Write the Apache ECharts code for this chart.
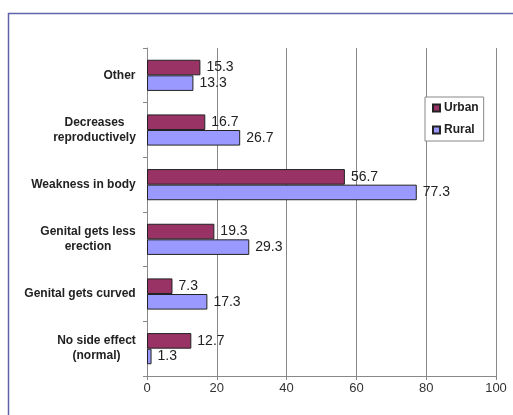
<!DOCTYPE html>
<html><head><meta charset="utf-8">
<script src="https://cdn.jsdelivr.net/npm/echarts@6/dist/echarts.min.js"></script>
<style>html,body{margin:0;padding:0;background:#fff}#c{width:513px;height:415px}</style>
</head><body><div id="c"></div>
<script>
const categories = ['Other', 'Decreases\nreproductively', 'Weakness in body', 'Genital gets less\nerection', 'Genital gets curved', 'No side effect\n(normal)'];
const urban = [15.3, 16.7, 56.7, 19.3, 7.3, 12.7];
const rural = [13.3, 26.7, 77.3, 29.3, 17.3, 1.3];
const xTicks = [0, 20, 40, 60, 80, 100];

const FF = 'Arial, "Liberation Sans", sans-serif';
const labelFont = 'bold 12px Arial, "Liberation Sans", sans-serif';
const cv = document.createElement('canvas').getContext('2d');
cv.font = labelFont;
function blockWidth(v) {
  return Math.ceil(Math.max(...v.split('\n').map(l => cv.measureText(l).width)));
}
function fmtLabel(v) {
  const w = blockWidth(v);
  return v.split('\n').map(l => '{c' + w + '|' + l + '}').join('\n');
}
const rich = {};
categories.forEach(v => {
  const w = blockWidth(v);
  rich['c' + w] = {width: w, align: 'center', fontWeight: 'bold', fontSize: 12, fontFamily: FF, color: '#222', lineHeight: 15};
});

const chart = echarts.init(document.getElementById('c'), null, {renderer: 'canvas'});
chart.setOption({
  animation: false,
  backgroundColor: '#fff',
  graphic: [{type: 'rect', shape: {x: 8.5, y: 13.5, width: 520, height: 420}, style: {fill: 'none', stroke: '#6063aa', lineWidth: 1.5}, z: -1}],
  grid: {left: 147, right: 17, top: 48, bottom: 39, containLabel: false},
  legend: {
    data: ['Urban', 'Rural'], orient: 'vertical', left: 425, top: 97,
    backgroundColor: '#fff', borderColor: '#888', borderWidth: 1,
    padding: [5, 5, 5, 7], itemWidth: 7, itemHeight: 7, itemGap: 10,
    icon: 'rect',
    textStyle: {fontWeight: 'bold', fontSize: 12, fontFamily: FF, color: '#222', padding: [0, 0, 0, -1]}
  },
  xAxis: {
    type: 'value', min: 0, max: 100, interval: 20,
    axisLine: {show: true, lineStyle: {color: '#888'}},
    axisTick: {show: true, length: 4, lineStyle: {color: '#888'}},
    splitLine: {show: true, lineStyle: {color: '#888', width: 1}},
    axisLabel: {fontSize: 13, color: '#333', fontFamily: FF, margin: 6,
      formatter: v => xTicks.includes(v) ? String(v) : ''}
  },
  yAxis: {
    type: 'category', data: categories, inverse: true,
    axisLine: {show: true, lineStyle: {color: '#888'}},
    axisTick: {show: true, length: 4, lineStyle: {color: '#888'}},
    axisLabel: {margin: 11, formatter: fmtLabel, rich: rich}
  },
  series: [
    {name: 'Urban', type: 'bar', data: urban, barGap: '0%', barCategoryGap: '43%',
     itemStyle: {color: '#993366', borderColor: '#222', borderWidth: 1},
     label: {show: true, position: 'right', distance: 6, fontSize: 14, color: '#222', fontFamily: FF}},
    {name: 'Rural', type: 'bar', data: rural, barGap: '0%', barCategoryGap: '43%',
     itemStyle: {color: '#9999ff', borderColor: '#222', borderWidth: 1},
     label: {show: true, position: 'right', distance: 6, fontSize: 14, color: '#222', fontFamily: FF}}
  ]
});
</script></body></html>
